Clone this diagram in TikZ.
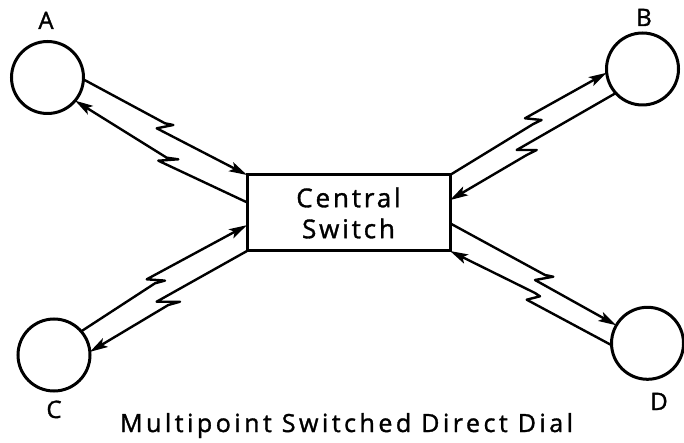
\documentclass[tikz,border=0pt]{standalone}
\usepackage{fontspec}
\setmainfont{Open Sans}[FakeBold=1.3]
\newfontfamily\lblfont{Open Sans}[FakeBold=1.3]
\newfontfamily\boxfont{Open Sans}[LetterSpace=11,FakeBold=1.3]
\newfontfamily\titlefont{Open Sans}[LetterSpace=14,FakeBold=1.3]
\usetikzlibrary{arrows.meta,calc}
\newcommand{\bolt}[6]{\draw[link,#1] (#2) -- (#3) -- ++(#4) -- ($(#3)+(#5)$) -- (#6);}
\begin{document}
\begin{tikzpicture}[x=1pt,y=-1pt,
  station/.style={circle,draw,line width=3pt,minimum size=72pt,inner sep=0pt,outer sep=0pt},
  switchbox/.style={rectangle,draw,line width=3pt,minimum width=203pt,minimum height=76pt,
    inner sep=0pt,outer sep=0pt,align=center,font=\boxfont\fontsize{26}{31}\selectfont},
  link/.style={line width=2.4pt,line join=round,
    >={Stealth[length=18pt,width=10pt,inset=4pt]}},
  lbl/.style={anchor=base,inner sep=0pt,font=\lblfont\fontsize{24}{24}\selectfont},
  ttl/.style={anchor=base,inner sep=0pt,font=\titlefont\fontsize{25}{25}\selectfont}]
\useasboundingbox (0,0) rectangle (684,443);
\node[station] (A) at (47.5,77.5) {};
\node[station] (B) at (642.5,69) {};
\node[station] (C) at (54,355) {};
\node[station] (D) at (647.5,343.3) {};
\node[switchbox] (sw) at (348.5,213) {Central\\Switch};
\coordinate (swL1) at ($(sw.north west)!0.36!(sw.south west)$);
\coordinate (swL2) at ($(sw.north west)!0.66!(sw.south west)$);
\coordinate (swR1) at ($(sw.north east)!0.33!(sw.south east)$);
\coordinate (swR2) at ($(sw.north east)!0.635!(sw.south east)$);
% A links
\bolt{->}{A.-3}{165,123.3}{8.3,1.7}{-8.3,5}{sw.north west}
\bolt{<-}{A.-40}{166.7,157.7}{11.6,1.6}{-8.4,3}{swL1}
% C links
\bolt{->}{C.41}{155,283.3}{10,-2.7}{-8.3,-4}{swL2}
\bolt{<-}{C.5}{168.3,305}{11.7,-3.3}{-11.7,-3.3}{sw.south west}
% B links
\bolt{->}{sw.north east}{533.3,124}{8.3,-4}{-8.3,-5.7}{B.186}
\bolt{<-}{swR1}{526.7,155}{10,-5}{-10,-5}{B.222}
% D links
\bolt{->}{swR2}{545,275}{8.3,1.7}{-10,5}{D.150}
\bolt{<-}{sw.south east}{535,293}{5,3.3}{-8.3,6.7}{D.183}
% labels
\node[lbl] (la) at (46,29) {A};
\node[lbl] (lb) at (644,26) {B};
\node[lbl] (lc) at (54,418) {C};
\node[lbl] (ld) at (659,410) {D};
\node[ttl] (title) at (346.5,432) {Multipoint Switched Direct Dial};
\end{tikzpicture}
\end{document}
